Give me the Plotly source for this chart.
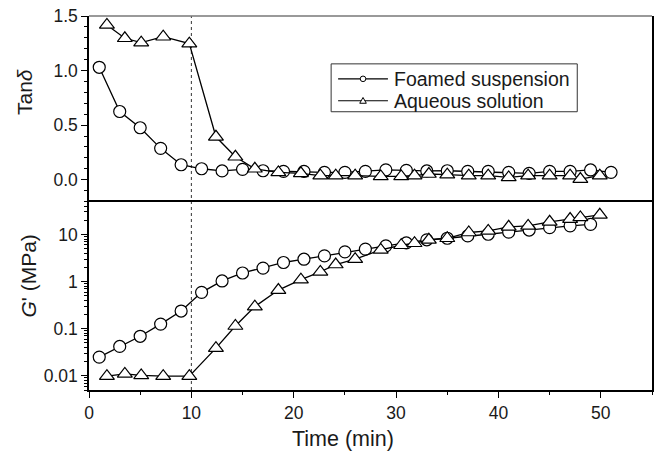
import numpy as np
import plotly.graph_objects as go

# ---------------- data ----------------
t_foam_tan = [1, 3, 5, 7, 9, 11, 13, 15, 17, 19, 21, 23, 25, 27, 29, 31, 33, 35, 37, 39, 41, 43, 45, 47, 49, 51]
tan_foam = [1.03, 0.625, 0.476, 0.287, 0.137, 0.10, 0.08, 0.095, 0.082, 0.076, 0.076, 0.067, 0.067, 0.076,
            0.09, 0.085, 0.08, 0.082, 0.076, 0.076, 0.067, 0.058, 0.076, 0.076, 0.089, 0.067]

t_aq = [1.75, 3.5, 5.1, 7.25, 9.8, 12.4, 14.3, 16.2, 18.5, 20.7, 22.6, 24.1, 26.0, 28.5, 30.5, 31.8, 33.2,
        35.0, 37.1, 39.0, 41.0, 42.9, 45.0, 47.0, 48.0, 49.9]
tan_aq = [1.418, 1.296, 1.256, 1.31, 1.247, 0.393, 0.21, 0.10, 0.067, 0.058, 0.037, 0.037, 0.037, 0.03, 0.03,
          0.037, 0.052, 0.046, 0.037, 0.037, 0.021, 0.037, 0.037, 0.037, 0.006, 0.037]

t_foam_g = [1, 3, 5, 7, 9, 11, 13, 15, 17, 19, 21, 23, 25, 27, 29, 31, 33, 35, 37, 39, 41, 43, 45, 47, 49]
g_foam = [0.025, 0.042, 0.069, 0.125, 0.237, 0.59, 1.03, 1.52, 1.93, 2.54, 2.98, 3.5, 4.26, 4.87, 5.72, 6.6,
          7.7, 8.3, 9.3, 10.1, 11.2, 12.4, 13.9, 15.2, 16.4]

g_aq = [0.0098, 0.011, 0.0102, 0.0098, 0.0098, 0.0387, 0.114, 0.294, 0.66, 1.1, 1.6, 2.3, 2.98, 4.7, 5.9, 6.5,
        7.7, 8.3, 11.0, 11.9, 14.5, 15.2, 18.5, 21.2, 23.0, 26.1]

series_names = ["Foamed suspension", "Aqueous solution"]
gel_time = 10
x_ticks = [0, 10, 20, 30, 40, 50]
tan_ticks = [0.0, 0.5, 1.0, 1.5]
g_ticks = [0.01, 0.1, 1, 10]
g_ticktext = ["0.01", "0.1", "1", "10"]

# minor tick positions for the log axis (2..9 within each decade)
g_minor = [m * d for d in (0.001, 0.01, 0.1, 1, 10) for m in range(2, 10) if 0.005 <= m * d <= 50]

# ---------------- figure ----------------
FONT = "Liberation Sans, Arial, sans-serif"
TXT = "#1a1a1a"
line = dict(color="black", width=1.3)
circ = dict(symbol="circle", size=12, color="white", line=dict(color="black", width=1.2))
tri = dict(symbol="triangle-up", size=13, color="white", line=dict(color="black", width=1.2))

fig = go.Figure()
fig.add_trace(go.Scatter(x=t_foam_tan, y=tan_foam, mode="lines+markers", line=line, marker=circ,
                         xaxis="x", yaxis="y", name=series_names[0], showlegend=False))
fig.add_trace(go.Scatter(x=t_aq, y=tan_aq, mode="lines+markers", line=line, marker=tri,
                         xaxis="x", yaxis="y", name=series_names[1], showlegend=False))
fig.add_trace(go.Scatter(x=t_foam_g, y=g_foam, mode="lines+markers", line=line, marker=circ,
                         xaxis="x", yaxis="y2", name=series_names[0], showlegend=False))
fig.add_trace(go.Scatter(x=t_aq, y=g_aq, mode="lines+markers", line=line, marker=tri,
                         xaxis="x", yaxis="y2", name=series_names[1], showlegend=False))

# ---- plot-area pixel geometry helpers (for the boxed legend) ----
PL, PR, PT, PB = 89, 654, 15, 390


def px(x):
    return (x - PL) / (PR - PL)


def py(y):
    return (PB - y) / (PB - PT)


box = dict(x0=332, x1=579, y0=63, y1=111)
rows_y = [78, 100]
sym_x0, sym_x1, sym_c = 339, 389, 364
text_x = 393
r = 2.8

shapes = [
    dict(type="line", xref="x", yref="paper", x0=gel_time, x1=gel_time, y0=0, y1=1,
         line=dict(color="#333", width=1, dash="dot"), layer="below"),
    dict(type="line", xref="paper", yref="paper", x0=0, x1=1, y0=1, y1=1,
         line=dict(color="#777", width=1.5)),
    dict(type="rect", xref="paper", yref="paper", x0=px(box["x0"]), x1=px(box["x1"]),
         y0=py(box["y1"]), y1=py(box["y0"]), line=dict(color="#333", width=1), fillcolor="white"),
]
annotations = []
for i, (name, ry) in enumerate(zip(series_names, rows_y)):
    shapes.append(dict(type="line", xref="paper", yref="paper", x0=px(sym_x0), x1=px(sym_x1),
                       y0=py(ry), y1=py(ry), line=dict(color="black", width=1.2)))
    if i == 0:
        shapes.append(dict(type="circle", xref="paper", yref="paper",
                           x0=px(sym_c - r), x1=px(sym_c + r), y0=py(ry + r), y1=py(ry - r),
                           line=dict(color="black", width=1), fillcolor="white"))
    else:
        path = "M {:.5f},{:.5f} L {:.5f},{:.5f} L {:.5f},{:.5f} Z".format(
            px(sym_c - 3.3), py(ry + 2.5), px(sym_c + 3.3), py(ry + 2.5), px(sym_c), py(ry - 3.3))
        shapes.append(dict(type="path", xref="paper", yref="paper", path=path,
                           line=dict(color="black", width=1), fillcolor="white"))
    annotations.append(dict(text=name, xref="paper", yref="paper", x=px(text_x), y=py(ry),
                            xanchor="left", yanchor="middle", showarrow=False,
                            font=dict(family=FONT, size=19.5, color=TXT)))

annotations += [
    dict(text="Tan<i>δ</i>", xref="paper", yref="paper", x=px(25), y=py(91), textangle=-90,
         showarrow=False, xanchor="center", yanchor="middle", font=dict(family=FONT, size=21, color=TXT)),
    dict(text="<i>G</i>' (MPa)", xref="paper", yref="paper", x=px(28), y=py(276), textangle=-90,
         showarrow=False, xanchor="center", yanchor="middle", font=dict(family=FONT, size=21, color=TXT)),
    dict(text="Time (min)", xref="paper", yref="paper", x=px(344), y=py(439),
         showarrow=False, xanchor="center", yanchor="middle", font=dict(family=FONT, size=21.5, color=TXT)),
]

axis_common = dict(showline=True, linecolor="black", linewidth=1.5, mirror=True, showgrid=False,
                   zeroline=False, ticks="outside", ticklen=6, tickwidth=1.2, tickcolor="black",
                   tickfont=dict(family=FONT, size=17.5, color=TXT))

fig.update_layout(
    width=660, height=454,
    margin=dict(l=PL, r=660 - PR, t=PT, b=454 - PB),
    paper_bgcolor="white", plot_bgcolor="white",
    font=dict(family=FONT, color=TXT),
    showlegend=False,
    xaxis=dict(domain=[0, 1], range=[0, 55], anchor="y2", tickvals=x_ticks,
               minor=dict(dtick=5, tick0=0, ticks="outside", ticklen=3, tickcolor="black"),
               **axis_common),
    yaxis=dict(domain=[0.504, 1], range=[-0.2, 1.5], anchor="x", tickvals=tan_ticks, tickformat=".1f",
               minor=dict(dtick=0.1, tick0=0, ticks="outside", ticklen=3, tickcolor="black"),
               **axis_common),
    yaxis2=dict(domain=[0, 0.504], type="log", range=[np.log10(0.005), np.log10(50)], anchor="x",
                tickvals=g_ticks, ticktext=g_ticktext,
                minor=dict(tickmode="array", tickvals=g_minor, ticks="outside", ticklen=3, tickcolor="black"),
                **axis_common),
    shapes=shapes,
    annotations=annotations,
)

fig.write_html("out.html")
